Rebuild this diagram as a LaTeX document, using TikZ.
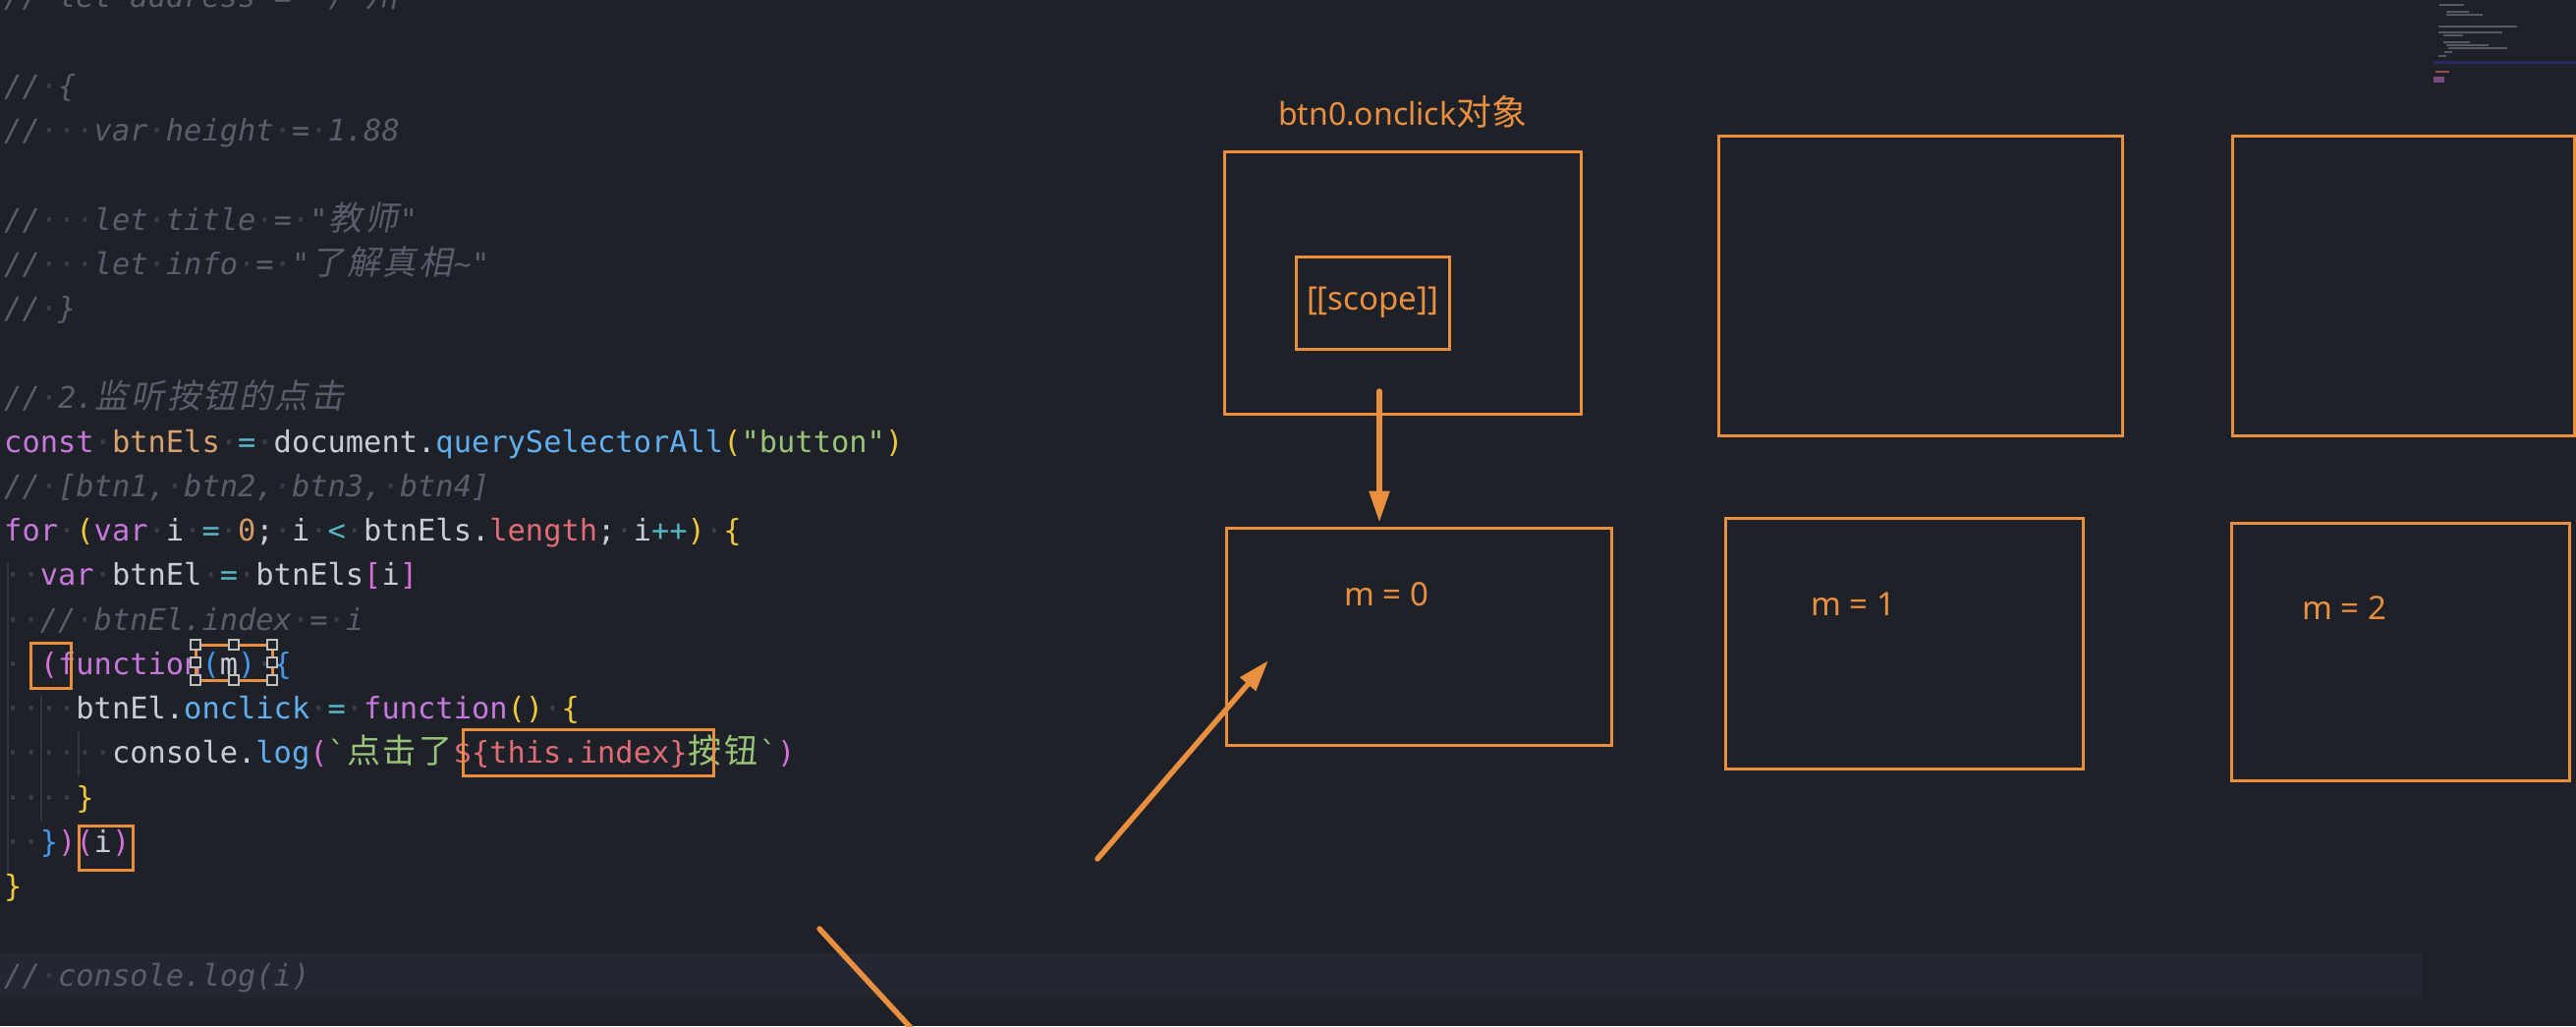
\documentclass[tikz,border=0pt]{standalone}
\usepackage{fontspec}
\usepackage{xcolor}
\usetikzlibrary{arrows.meta, positioning}

\setmainfont{Noto Sans}
\setmonofont{DejaVu Sans Mono}
\newfontfamily\zhfont{Noto Sans CJK SC}[Scale=1.12]
\newfontfamily\zhfontit{Noto Sans CJK SC}[Scale=1.12, FakeSlant=0.2]

\definecolor{editorbg}{RGB}{31,33,40}
\definecolor{linehl}{RGB}{36,39,49}
\definecolor{annoOrange}{RGB}{232,143,64}
\definecolor{cTxt}{RGB}{200,204,212}
\definecolor{cCm}{RGB}{88,94,107}
\definecolor{cWs}{RGB}{58,63,74}
\definecolor{cKw}{RGB}{198,120,221}
\definecolor{cVr}{RGB}{216,162,112}
\definecolor{cFn}{RGB}{97,175,239}
\definecolor{cSt}{RGB}{152,195,121}
\definecolor{cNm}{RGB}{209,154,102}
\definecolor{cPr}{RGB}{224,108,117}
\definecolor{cOp}{RGB}{86,182,194}
\definecolor{cBa}{RGB}{236,200,60}
\definecolor{cBb}{RGB}{210,112,214}
\definecolor{cBc}{RGB}{70,150,230}
\definecolor{guide}{RGB}{50,54,64}
\definecolor{mapline}{RGB}{84,90,102}

% token colours
\newcommand\ws{\textcolor{cWs}{·}}
\newcommand\tKw[1]{\textcolor{cKw}{#1}}
\newcommand\tVr[1]{\textcolor{cVr}{#1}}
\newcommand\tFn[1]{\textcolor{cFn}{#1}}
\newcommand\tSt[1]{\textcolor{cSt}{#1}}
\newcommand\tNm[1]{\textcolor{cNm}{#1}}
\newcommand\tPr[1]{\textcolor{cPr}{#1}}
\newcommand\tOp[1]{\textcolor{cOp}{#1}}
\newcommand\tBa[1]{\textcolor{cBa}{#1}}
\newcommand\tBb[1]{\textcolor{cBb}{#1}}
\newcommand\tBc[1]{\textcolor{cBc}{#1}}
\newcommand\tCm[1]{{\itshape\color{cCm}#1}}
\makeatletter
\def\zh@loop#1{\ifx#1\relax\else\makebox[36.6pt]{#1}\expandafter\zh@loop\fi}
\newcommand\zh[1]{{\zhfont\upshape\zh@loop#1\relax}}
\newcommand\zhit[1]{{\zhfontit\upshape\zh@loop#1\relax}}
\makeatother

\begin{document}
\begin{tikzpicture}[
		x=1pt, y=-1pt,
		code/.style={
			anchor=base west,
			inner sep=0pt,
			text=cTxt,
			font=\ttfamily\fontsize{30.4}{36}\selectfont
		},
		box/.style={
			rectangle,
			draw=annoOrange,
			line width=3pt,
			inner sep=0pt
		},
		label/.style={
			text=annoOrange,
			inner sep=0pt,
			font=\fontsize{33}{40}\selectfont
		},
		codebox/.style={
			draw=annoOrange,
			line width=3pt
		},
		handle/.style={
			draw=white!75!black,
			fill=editorbg,
			line width=1.2pt
		},
		arrow/.style={
			-{Triangle[length=32pt,width=20pt]},
			draw=annoOrange,
			line width=5.5pt,
			line cap=round
		}
		]
		
		\useasboundingbox (0,0) rectangle (2622,1044);
		\fill[editorbg] (0,0) rectangle (2622,1044);
		\clip (0,0) rectangle (2622,1044);
		
		% Editor
		\fill[linehl] (0,970) rectangle (2465,1015);
		\draw[guide, line width=1.5pt] (8,573) -- (8,890);
		\draw[guide, line width=1.5pt] (42,708) -- (42,835);
		\draw[guide, line width=1.5pt] (80,743) -- (80,790);
		
		\node[code] (ln0) at (4,8) {\tCm{//\ws let\ws address\ws =\ws "\zhit{广州}"}};
		\node[code] (ln2) at (4,98) {\tCm{//\ws\{}};
		\node[code] (ln3) at (4,143) {\tCm{//\ws\ws\ws var\ws height\ws =\ws 1.88}};
		\node[code] (ln5) at (4,234) {\tCm{//\ws\ws\ws let\ws title\ws =\ws "\zhit{教师}"}};
		\node[code] (ln6) at (4,279) {\tCm{//\ws\ws\ws let\ws info\ws =\ws "\zhit{了解真相}\textasciitilde"}};
		\node[code] (ln7) at (4,324) {\tCm{//\ws\}}};
		\node[code] (ln9) at (4,415) {\tCm{//\ws 2.\zhit{监听按钮的点击}}};
		\node[code] (ln10) at (4,460) {\tKw{const}\ws\tVr{btnEls}\ws\tOp{=}\ws document.\tFn{querySelectorAll}\tBa{(}\tSt{"button"}\tBa{)}};
		\node[code] (ln11) at (4,505) {\tCm{//\ws[btn1,\ws btn2,\ws btn3,\ws btn4]}};
		\node[code] (ln12) at (4,550) {\tKw{for}\ws\tBa{(}\tKw{var}\ws i\ws\tOp{=}\ws\tNm{0};\ws i\ws\tOp{<}\ws btnEls.\tPr{length};\ws i\tOp{++}\tBa{)}\ws\tBa{\{}};
		\node[code] (ln13) at (4,595) {\ws\ws\tKw{var}\ws btnEl\ws\tOp{=}\ws btnEls\tBb{[}i\tBb{]}};
		\node[code] (ln14) at (4,641) {\ws\ws\tCm{//\ws btnEl.index\ws =\ws i}};
		\node[code] (ln15) at (4,686) {\ws\ws\tBb{(}\tKw{function}\tBc{(}m\tBc{)}\ws\tBc{\{}};
		\node[code] (ln16) at (4,731) {\ws\ws\ws\ws btnEl.\tFn{onclick}\ws\tOp{=}\ws\tKw{function}\tBa{()}\ws\tBa{\{}};
		\node[code] (ln17) at (4,776) {\ws\ws\ws\ws\ws\ws console.\tFn{log}\tBb{(}\tSt{\symbol{96}\zh{点击了}}\tPr{\$\{this.index\}}\tSt{\zh{按钮}\symbol{96}}\tBb{)}};
		\node[code] (ln18) at (4,822) {\ws\ws\ws\ws\tBa{\}}};
		\node[code] (ln19) at (4,867) {\ws\ws\tBc{\}}\tBb{)}\tBb{(}i\tBb{)}};
		\node[code] (ln20) at (4,912) {\tBa{\}}};
		\node[code] (ln22) at (4,1003) {\tCm{//\ws console.log(i)}};
		
		% Minimap
		\foreach \mx/\my/\mw in {2483/5/25, 2490/12/23, 2490/15/37, 2482/27/80, 2482/33/65,
			2487/36/20, 2487/43/27, 2490/46/43, 2492/49/60, 2488/53/8, 2482/57/8}
		\draw[mapline, line width=2pt] (\mx,\my) -- ++(\mw,0);
		\fill[guide!80!blue] (2477,62) rectangle (2622,65);
		\draw[cPr!60!editorbg, line width=2pt] (2479,73) -- ++(14,0);
		\fill[cBb!50!editorbg] (2477,78) rectangle (2488,84);
		
		% Marks in the code
		\draw[codebox] (31,654) rectangle (72,700);
		\draw[codebox] (199,656) rectangle (277,692);
		\foreach \hx/\hy in {199/656, 238/656, 277/656, 199/674, 277/674, 199/692, 238/692, 277/692}
		\draw[handle] (\hx,\hy) ++(-5,-5) rectangle ++(10,10);
		\draw[codebox] (471,742) rectangle (726,789);
		\draw[codebox] (80,840) rectangle (135,885);
		
		% Objects
		\node[box, minimum width=363pt, minimum height=267pt] (objA) at (1427.5,287.5) {};
		\node[label, font=\fontsize{32}{40}\selectfont, above=22pt of objA] (titleA) {btn0.onclick{\zhfont 对象}};
		\node[box, label, minimum width=156pt, minimum height=94pt] (scope) at (1397,308) {[[scope]]};
		\node[box, minimum width=411pt, minimum height=305pt] (objB) at (1954.5,290.5) {};
		\node[box, minimum width=348pt, minimum height=305pt] (objC) at (2446,290.5) {};
		
		% Closure scopes
		\node[box, minimum width=392pt, minimum height=221pt] (envZero) at (1444,647.5) {};
		\node[box, minimum width=364pt, minimum height=255pt] (envOne) at (1938,654.5) {};
		\node[box, minimum width=344pt, minimum height=262pt] (envTwo) at (2443,663) {};
		\node[label] (mZero) at (1411,605) {m = 0};
		\node[label] (mOne) at (1886,615) {m = 1};
		\node[label] (mTwo) at (2386,619) {m = 2};
		
		% Arrows
		\coordinate (scopeTail) at (1404,398);
		\coordinate (clickTail) at (1117,874);
		\coordinate (clickHead) at (1291,672);
		\coordinate (lowTail) at (834,945);
		\coordinate (lowEnd) at (953,1074);
		\draw[arrow, shorten >=4pt] (scopeTail) -- (scopeTail |- envZero.north);
		\draw[arrow] (clickTail) -- (clickHead);
		\draw[annoOrange, line width=5.5pt, line cap=round] (lowTail) -- (lowEnd);
		
\end{tikzpicture}
\end{document}
